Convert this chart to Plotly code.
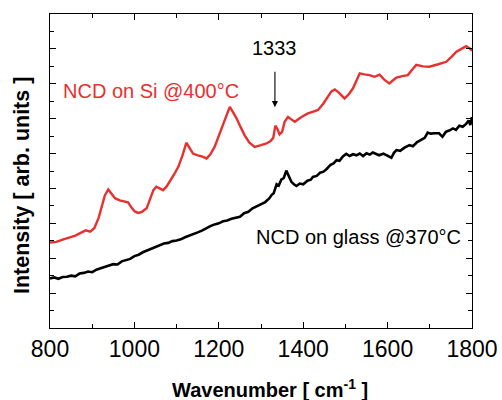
import plotly.graph_objects as go

# Raman spectra of nanocrystalline diamond films
wn_si = [800, 815, 830, 845, 860, 875, 885, 895, 905, 915, 922, 930, 938, 946, 954,
         965, 975, 985, 993, 1001, 1009, 1018, 1029, 1038, 1045, 1052, 1060, 1068,
         1076, 1084, 1094, 1104, 1114, 1123, 1131, 1139, 1150, 1160, 1171, 1180,
         1190, 1200, 1210, 1218, 1226, 1234, 1242, 1252, 1261, 1272, 1285, 1300,
         1313, 1322, 1329, 1334, 1339, 1344, 1350, 1356, 1364, 1372, 1380, 1395,
         1411, 1424, 1435, 1447, 1459, 1467, 1475, 1485, 1498, 1508, 1518, 1526,
         1534, 1545, 1557, 1569, 1581, 1592, 1604, 1613, 1621, 1635, 1648, 1658,
         1668, 1684, 1699, 1720, 1739, 1752, 1763, 1775, 1786, 1794, 1800]
int_si = [2.45, 2.47, 2.53, 2.58, 2.65, 2.74, 2.80, 2.76, 2.86, 3.15, 3.48, 3.80,
          3.97, 3.85, 3.72, 3.66, 3.63, 3.60, 3.45, 3.34, 3.30, 3.33, 3.43, 3.70,
          3.95, 4.05, 3.99, 3.95, 4.05, 4.19, 4.40, 4.62, 4.95, 5.31, 5.14, 5.00,
          4.95, 4.92, 4.86, 4.98, 5.19, 5.50, 5.86, 6.10, 6.34, 6.18, 6.01, 5.75,
          5.53, 5.32, 5.19, 5.24, 5.29, 5.35, 5.45, 5.80, 5.70, 5.55, 5.62, 5.91,
          6.05, 5.98, 5.91, 6.04, 6.15, 6.20, 6.25, 6.42, 6.63, 6.78, 6.84, 6.74,
          6.58, 6.70, 6.87, 7.10, 7.30, 7.27, 7.25, 7.20, 7.26, 7.12, 7.01, 7.10,
          7.18, 7.22, 7.25, 7.40, 7.54, 7.50, 7.49, 7.56, 7.63, 7.78, 7.92, 8.00,
          8.08, 8.02, 7.95]

wn_glass = [800, 810, 820, 830, 840, 850, 860, 870, 880, 890, 900, 910, 920, 930,
            940, 950, 960, 970, 980, 990, 1000, 1010, 1020, 1030, 1040, 1050, 1060,
            1070, 1080, 1090, 1100, 1110, 1120, 1130, 1140, 1150, 1160, 1170, 1180,
            1190, 1200, 1210, 1220, 1230, 1240, 1250, 1260, 1270, 1280, 1290, 1300,
            1310, 1320, 1325, 1330, 1337, 1342, 1348, 1354, 1360, 1366, 1372, 1378,
            1384, 1392, 1400, 1410, 1418, 1423, 1432, 1440, 1448, 1455, 1465, 1472,
            1479, 1486, 1494, 1502, 1510, 1518, 1526, 1534, 1542, 1550, 1558, 1565,
            1573, 1580, 1590, 1600, 1609, 1615, 1621, 1630, 1640, 1652, 1660, 1670,
            1680, 1688, 1695, 1702, 1712, 1722, 1730, 1738, 1746, 1755, 1762, 1770,
            1778, 1786, 1792, 1796, 1800]
int_glass = [1.42, 1.45, 1.41, 1.46, 1.47, 1.50, 1.48, 1.56, 1.58, 1.62, 1.60, 1.67,
             1.71, 1.76, 1.79, 1.83, 1.82, 1.91, 1.94, 1.98, 2.06, 2.10, 2.17, 2.22,
             2.26, 2.33, 2.36, 2.42, 2.44, 2.49, 2.51, 2.54, 2.60, 2.64, 2.69, 2.74,
             2.79, 2.86, 2.92, 2.97, 3.00, 3.06, 3.08, 3.13, 3.16, 3.19, 3.29, 3.33,
             3.43, 3.49, 3.55, 3.61, 3.72, 3.81, 3.86, 4.12, 4.08, 4.25, 4.30, 4.51,
             4.35, 4.19, 4.12, 4.07, 4.14, 4.12, 4.22, 4.25, 4.33, 4.36, 4.45, 4.48,
             4.55, 4.68, 4.72, 4.81, 4.79, 4.92, 4.99, 4.93, 4.98, 4.95, 5.00, 4.93,
             5.01, 4.97, 5.03, 4.98, 4.95, 5.00, 4.93, 4.88, 5.02, 5.10, 5.08, 5.17,
             5.24, 5.21, 5.33, 5.39, 5.45, 5.60, 5.57, 5.58, 5.58, 5.48, 5.62, 5.66,
             5.72, 5.68, 5.80, 5.77, 5.85, 5.95, 5.82, 6.05]

x_ticks = [800, 1000, 1200, 1400, 1600, 1800]
diamond_peak = 1333

RED = "#e8302f"
FONT = "Liberation Sans, Arial, sans-serif"

fig = go.Figure()
fig.add_trace(go.Scatter(x=wn_glass, y=int_glass, mode="lines",
                         line=dict(color="black", width=2.6), hoverinfo="skip"))
fig.add_trace(go.Scatter(x=wn_si, y=int_si, mode="lines",
                         line=dict(color=RED, width=2.4), hoverinfo="skip"))

axis_common = dict(showgrid=False, zeroline=False, showline=True, linecolor="black",
                   linewidth=1.3, mirror="allticks", ticks="inside", ticklen=6,
                   tickwidth=1.2, tickcolor="black", automargin=False)

fig.update_xaxes(range=[800, 1800], tickvals=x_ticks,
                 ticktext=[str(v) for v in x_ticks],
                 tickfont=dict(family=FONT, size=23, color="black"),
                 minor=dict(dtick=100, tick0=800, ticks="inside", ticklen=3.5,
                            tickwidth=1.2, tickcolor="black"),
                 **axis_common)
fig.update_yaxes(range=[0, 9], dtick=1, tick0=0, showticklabels=False,
                 minor=dict(dtick=0.5, tick0=0, ticks="inside", ticklen=3.5,
                            tickwidth=1.2, tickcolor="black"),
                 **axis_common)

annotations = [
    dict(x=1039, y=6.80, xref="x", yref="y", text="NCD on Si @400°C",
         showarrow=False, font=dict(family=FONT, size=20, color=RED)),
    dict(x=1531, y=2.62, xref="x", yref="y", text="NCD on glass @370°C",
         showarrow=False, font=dict(family=FONT, size=20, color="black")),
    dict(x=diamond_peak, y=8.02, xref="x", yref="y", text=str(diamond_peak),
         showarrow=False, font=dict(family=FONT, size=20, color="black")),
    dict(x=diamond_peak, y=6.33, xref="x", yref="y", ax=diamond_peak, ay=7.39,
         axref="x", ayref="y", text="", showarrow=True, arrowhead=2,
         arrowsize=1.1, arrowwidth=1.1, arrowcolor="black"),
    dict(x=270, y=388, xref="paper", yref="paper", text="Wavenumber [ cm<sup>-1</sup> ]",
         showarrow=False, font=dict(family=FONT, size=20, color="black")),
    dict(x=22, y=186, xref="paper", yref="paper", text="Intensity [ arb. units ]",
         textangle=-90, showarrow=False,
         font=dict(family=FONT, size=21.5, color="black")),
]

# Title annotations are given in pixel positions; convert to paper fractions
W, H = 502, 400
L, R, T, B = 50, 29.5, 14, 72
pw, ph = W - L - R, H - T - B
for a in annotations:
    if a["xref"] == "paper":
        a["x"] = (a["x"] - L) / pw
        a["y"] = (H - B - a["y"]) / ph
        a["font"]["weight"] = "bold"
        a["xanchor"] = "center"
        a["yanchor"] = "middle"

fig.update_layout(width=W, height=H, margin=dict(l=L, r=R, t=T, b=B),
                  paper_bgcolor="white", plot_bgcolor="white", showlegend=False,
                  annotations=annotations)

fig.write_html("out.html")
